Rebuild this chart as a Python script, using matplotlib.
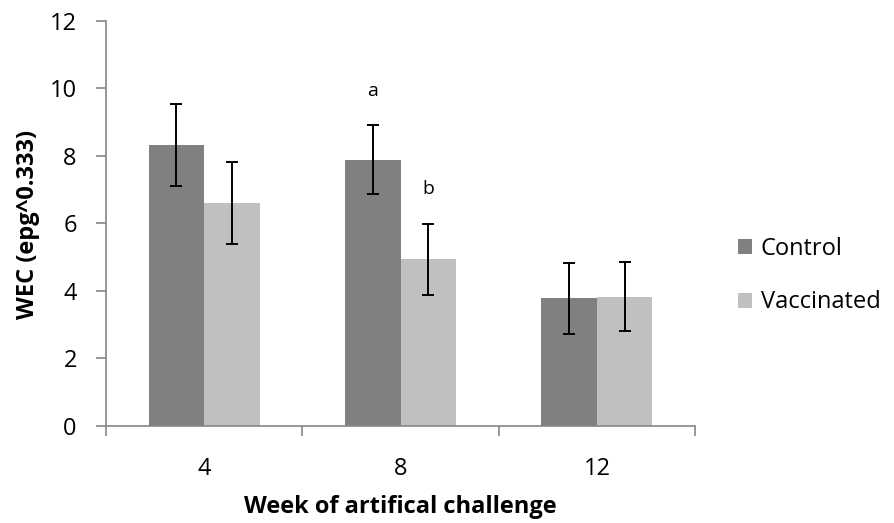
import numpy as np
from matplotlib import pyplot as plt
import matplotlib as mpl

plt.rcParams['font.family'] = ['Open Sans', 'DejaVu Sans']

weeks = ['4', '8', '12']
control = [8.32, 7.89, 3.78]
control_err = [1.21, 1.03, 1.05]
vaccinated = [6.61, 4.93, 3.83]
vaccinated_err = [1.21, 1.04, 1.02]
letters = [(1, 'control', 'a'), (1, 'vaccinated', 'b')]

fig = plt.figure(figsize=(8.94, 5.23), dpi=100)
ax = fig.add_axes([0.1186, 0.1855, 0.6588, 0.7749])

x = np.arange(len(weeks))
w = 0.283
ax.bar(x - w / 2, control, w, color='#808080', label='Control')
ax.bar(x + w / 2, vaccinated, w, color='#c0c0c0', label='Vaccinated')
ax.errorbar(x - w / 2, control, yerr=control_err, fmt='none', ecolor='black',
            elinewidth=1.4, capsize=4.5, capthick=1.4)
ax.errorbar(x + w / 2, vaccinated, yerr=vaccinated_err, fmt='none', ecolor='black',
            elinewidth=1.4, capsize=4.5, capthick=1.4)

# significance letters
for i, grp, txt in letters:
    if grp == 'control':
        xp, yp = x[i] - w / 2, control[i] + control_err[i] + 1.0
    else:
        xp, yp = x[i] + w / 2, vaccinated[i] + vaccinated_err[i] + 1.05
    ax.text(xp, yp, txt, ha='center', va='center', fontsize=14)

ax.set_xlim(-0.5, 2.5)
ax.set_ylim(0, 12)
ax.set_yticks(range(0, 13, 2))
ax.set_xticks(np.arange(-0.5, 3, 1))
ax.set_xticklabels([])
ax.set_xticks(x, minor=True)
ax.set_xticklabels(weeks, minor=True)
ax.tick_params(axis='x', which='minor', length=0, pad=22, labelsize=17)
ax.tick_params(axis='x', which='major', length=7, color='#868686', width=1.2)
ax.tick_params(axis='y', length=7, color='#868686', width=1.2, pad=14, labelsize=17)

for s in ['top', 'right']:
    ax.spines[s].set_visible(False)
for s in ['left', 'bottom']:
    ax.spines[s].set_color('#868686')
    ax.spines[s].set_linewidth(1.2)

fig.text(0.4475, 0.03, 'Week of artifical challenge', ha='center', va='center',
         fontsize=17, fontweight='bold')
fig.text(0.031, 0.57, 'WEC (epg^0.333)', ha='center', va='center', rotation=90,
         fontsize=17, fontweight='bold')

fig.legend(loc='center left', bbox_to_anchor=(0.802, 0.473), frameon=False,
           fontsize=17, handlelength=0.6, handleheight=0.6, handletextpad=0.35,
           labelspacing=1.25)

plt.savefig('out.png')
